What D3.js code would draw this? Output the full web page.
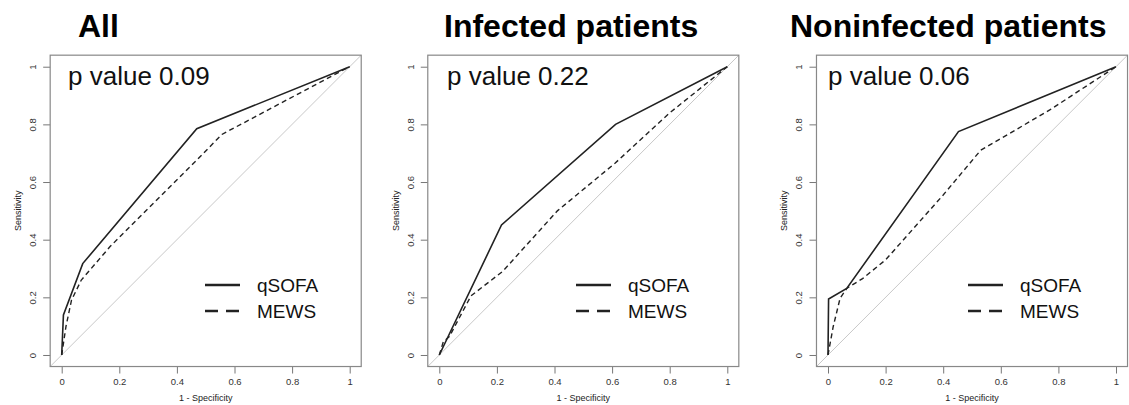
<!DOCTYPE html>
<html>
<head>
<meta charset="utf-8">
<script src="https://cdn.jsdelivr.net/npm/d3@7"></script>
<style>
  body { margin: 0; background: #fff; }
  svg { display: block; font-family: "Liberation Sans", Arial, sans-serif; }
</style>
</head>
<body>
<svg id="chart" width="1129" height="405"></svg>
<script>
// panel names and p values
var panelTitles = ["All", "Infected patients", "Noninfected patients"];
var pValues = ["0.09", "0.22", "0.06"];
var seriesNames = ["qSOFA", "MEWS"];
var tickValues = [0, 0.2, 0.4, 0.6, 0.8, 1];

// ROC points [1 - specificity, sensitivity]
var qsofaAll = [[0, 0], [0.006, 0.139], [0.073, 0.317], [0.469, 0.785], [1, 1]];
var mewsAll = [[0, 0], [0.015, 0.1], [0.034, 0.19], [0.068, 0.26], [0.168, 0.376],
               [0.468, 0.675], [0.556, 0.765], [0.965, 0.982], [1, 1]];
var qsofaInfected = [[0, 0], [0.216, 0.451], [0.612, 0.8], [1, 1]];
var mewsInfected = [[0, 0], [0.014, 0.046], [0.035, 0.064], [0.11, 0.205], [0.22, 0.29],
                    [0.41, 0.5], [0.61, 0.665], [0.8, 0.84], [1, 1]];
var qsofaNoninfected = [[0, 0], [0.002, 0.194], [0.065, 0.231], [0.453, 0.775], [1, 1]];
var mewsNoninfected = [[0, 0], [0.018, 0.098], [0.042, 0.197], [0.065, 0.231], [0.12, 0.265],
                       [0.2, 0.33], [0.4, 0.555], [0.53, 0.71], [0.77, 0.85], [1, 1]];

var qsofaSeries = [qsofaAll, qsofaInfected, qsofaNoninfected];
var mewsSeries = [mewsAll, mewsInfected, mewsNoninfected];

// layout of each panel (pixel of x=0, text offsets)
var panelX0 = [61.7, 439.3, 828];
var titleX = [78, 444, 790];
var pTextX = [68, 447, 828];
var legendX = [205, 576, 968];

var unit = 288;
var y1px = 66.7, y0px = 355;

var svg = d3.select("#chart");

for (var i = 0; i < 3; i++) {
    drawPanel(i);
}

function drawPanel(i) {
    var x0 = panelX0[i];
    var pad = 0.04 * unit;
    var x = d3.scaleLinear().domain([-0.04, 1.04]).range([x0 - pad, x0 + unit + pad]);
    var y = d3.scaleLinear().domain([-0.04, 1.04]).range([y0px + pad, y1px - pad]);

    var g = svg.append("g");

    // title
    g.append("text")
        .attr("x", titleX[i]).attr("y", 36.5)
        .style("font-size", "32px").style("font-weight", "bold")
        .attr("fill", "#000")
        .text(panelTitles[i]);

    // reference diagonal
    g.append("line")
        .attr("x1", x(-0.04)).attr("y1", y(-0.04))
        .attr("x2", x(1.04)).attr("y2", y(1.04))
        .attr("stroke", "#c8c8c8").attr("stroke-width", 1);

    // x axis
    var xAxis = d3.axisBottom(x).tickValues(tickValues).tickSize(7).tickSizeOuter(0)
        .tickFormat(function(d) { return String(d); });
    var ax = g.append("g")
        .attr("transform", "translate(0," + y(-0.04) + ")")
        .call(xAxis);
    ax.select(".domain").remove();
    ax.selectAll("line").attr("stroke", "#777");
    ax.selectAll("text").attr("y", 12).attr("fill", "#333").style("font-size", "9.5px").style("font-family", "Liberation Sans, Arial, sans-serif");

    // y axis
    var yAxis = d3.axisLeft(y).tickValues(tickValues).tickSize(7).tickSizeOuter(0)
        .tickFormat(function(d) { return String(d); });
    var ay = g.append("g")
        .attr("transform", "translate(" + x(-0.04) + ",0)")
        .call(yAxis);
    ay.select(".domain").remove();
    ay.selectAll("line").attr("stroke", "#777");
    ay.selectAll("text")
        .attr("x", 0).attr("dy", 0)
        .attr("text-anchor", "middle")
        .attr("transform", "translate(-14,0) rotate(-90)")
        .attr("fill", "#333").style("font-size", "9.5px").style("font-family", "Liberation Sans, Arial, sans-serif");

    // box
    g.append("rect")
        .attr("x", x(-0.04)).attr("y", y(1.04))
        .attr("width", x(1.04) - x(-0.04)).attr("height", y(-0.04) - y(1.04))
        .attr("fill", "none").attr("stroke", "#888").attr("stroke-width", 1.2);

    // axis titles
    g.append("text")
        .attr("x", x(0.5)).attr("y", 401)
        .attr("text-anchor", "middle")
        .style("font-size", "9px").attr("fill", "#222")
        .text("1 - Specificity");
    g.append("text")
        .attr("transform", "translate(" + (x(-0.04) - 29) + "," + y(0.5) + ") rotate(-90)")
        .attr("text-anchor", "middle")
        .style("font-size", "9px").attr("fill", "#222")
        .text("Sensitivity");

    var line = d3.line()
        .x(function(d) { return x(d[0]); })
        .y(function(d) { return y(d[1]); });

    g.append("path")
        .datum(mewsSeries[i])
        .attr("d", line)
        .attr("fill", "none").attr("stroke", "#222").attr("stroke-width", 1.4)
        .attr("stroke-dasharray", "5,3.5");

    g.append("path")
        .datum(qsofaSeries[i])
        .attr("d", line)
        .attr("fill", "none").attr("stroke", "#222").attr("stroke-width", 1.6);

    // p value
    g.append("text")
        .attr("x", pTextX[i]).attr("y", 85)
        .style("font-size", "26px").attr("fill", "#111")
        .text("p value " + pValues[i]);

    // legend
    var leg = g.append("g").attr("transform", "translate(" + legendX[i] + ",0)");
    var legY = [285, 311];
    seriesNames.forEach(function(name, k) {
        leg.append("line")
            .attr("x1", 0).attr("x2", 35)
            .attr("y1", legY[k]).attr("y2", legY[k])
            .attr("stroke", "#222").attr("stroke-width", 2.4)
            .attr("stroke-dasharray", k == 1 ? "13,8" : null);
        leg.append("text")
            .attr("x", 52).attr("y", legY[k] + 6.5)
            .style("font-size", "19px").attr("fill", "#111")
            .text(name);
    });
}
</script>
</body>
</html>
